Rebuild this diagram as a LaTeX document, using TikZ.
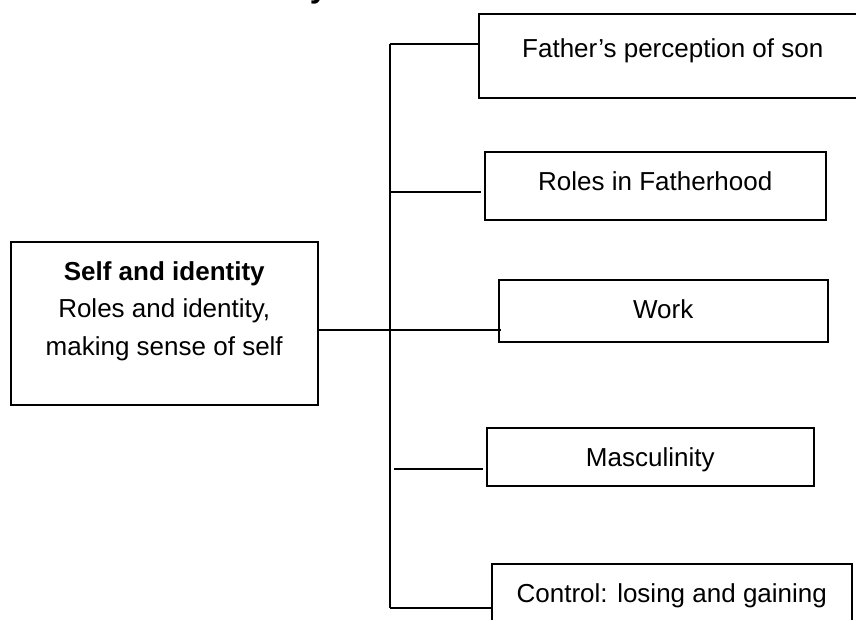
\documentclass[tikz,border=0pt]{standalone}
\usepackage{fontspec}
\setmainfont{Liberation Sans}
\begin{document}
\begin{tikzpicture}[x=1pt,y=-1pt,
  line width=1.5pt,
  box/.style={draw=black, line width=1.5pt, rectangle, inner sep=0pt, anchor=north west},
  txt/.style={font=\fontsize{26}{37.5}\selectfont, inner sep=0pt, anchor=base},
  wire/.style={draw=black, line width=1.5pt}]
\useasboundingbox (0,0) rectangle (856,619);

% heading, mostly above the page edge
\node[font=\fontsize{32}{38}\selectfont\bfseries, inner sep=0pt, anchor=base west] (head) at (309,-2.5) {y};

% boxes
\node[box, minimum width=307pt, minimum height=163pt] (self) at (10,241) {};
\node[box, minimum width=388pt, minimum height=84pt] (father) at (478,13) {};
\node[box, minimum width=341pt, minimum height=68pt] (roles) at (484,151) {};
\node[box, minimum width=329pt, minimum height=62pt] (work) at (498,279) {};
\node[box, minimum width=327pt, minimum height=58pt] (masc) at (486,427) {};
\node[box, minimum width=360pt, minimum height=80pt] (control) at (491,563) {};

% texts
\node[txt, font=\fontsize{26}{37.5}\selectfont\bfseries] (selfT1) at ([yshift=-39pt]self.north) {Self and identity};
\node[txt] (selfT2) at ([yshift=-76pt]self.north) {Roles and identity,};
\node[txt] (selfT3) at ([yshift=-114pt]self.north) {making sense of self};
\node[txt] (fatherT) at ([yshift=-44pt]father.north) {Father’s perception of son};
\node[txt] (rolesT) at ([yshift=-39pt]roles.north) {Roles in Fatherhood};
\node[txt] (workT) at ([yshift=-39pt]work.north) {Work};
\node[txt] (mascT) at ([yshift=-39pt]masc.north) {Masculinity};
\node[txt] (controlT) at ([yshift=-39pt]control.north) {Control: losing and gaining};

% trunk and branches
\coordinate (top) at (390,44);
\coordinate (bot) at (390,608);
\coordinate (rolesL) at (391,192);
\coordinate (mascL) at (394,469);
\draw[wire] (top) -- (bot);
\draw[wire] (top) -- (top -| father.west);
\draw[wire] (rolesL) -- ([xshift=-3pt]rolesL -| roles.west);
\draw[wire] (self.east |- 0,330) -- ([xshift=3pt]work.west |- 0,330);
\draw[wire] (mascL) -- ([xshift=-3pt]mascL -| masc.west);
\draw[wire] (bot) -- (bot -| control.west);
\end{tikzpicture}
\end{document}
